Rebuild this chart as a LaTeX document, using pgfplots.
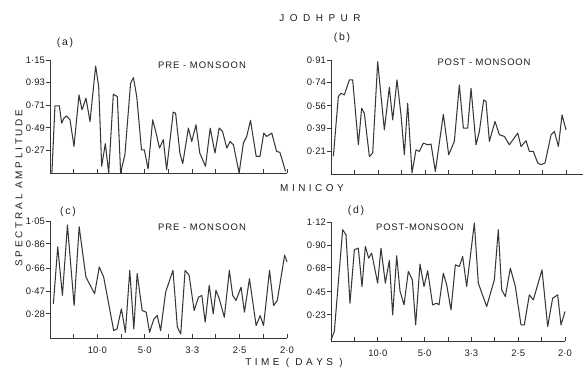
\documentclass[border=0pt]{standalone}
\usepackage{pgfplots}
\pgfplotsset{compat=1.18}
\usepackage{fontspec}
\setmainfont{Liberation Sans}
\definecolor{ink}{RGB}{55,55,55}
\definecolor{txt}{RGB}{30,30,30}
\pgfplotsset{
  panel/.style={
    scale only axis,
    axis x line=bottom, axis y line=left,
    axis line style={ink, line width=0.9pt, -},
    xmin=0, xmax=0.5,
    xtick={0.05,0.1,0.15,0.2,0.25,0.3,0.35,0.4,0.45,0.5},
    xtick align=inside, ytick align=outside,
    major tick length=4bp,
    tick style={ink, line width=0.9pt},
    every tick label/.append style={font=\fontsize{9.5}{10}\selectfont, text=txt},
    yticklabel style={inner sep=1pt},
    xticklabel style={yshift=-5pt},
    clip=false,
  },
  curve/.style={ink, line width=1.05pt, line join=round, no markers},
}
\newcommand{\tf}{\fontsize{10}{12}\selectfont}
\begin{document}
\begin{tikzpicture}
\useasboundingbox (0,0) rectangle (587bp,375bp);
% (a) Jodhpur pre-monsoon
\begin{axis}[panel, at={(50bp,202bp)}, anchor=south west, width=237bp, height=113bp,
  ymin=0.05, ymax=1.15, ytick={0.27,0.49,0.71,0.93,1.15},
  yticklabels={0·27,0·49,0·71,0·93,1·15}, xticklabels={}]
\addplot[curve] coordinates {
(0.004,0.05)(0.0105,0.704)(0.0197,0.704)(0.0246,0.535)(0.0295,0.584)(0.0352,0.606)
(0.0422,0.568)(0.0506,0.309)(0.0612,0.810)(0.0675,0.665)(0.0759,0.778)(0.0844,0.551)
(0.0963,1.092)(0.1027,0.891)(0.109,0.115)(0.1167,0.335)(0.1238,0.05)(0.1336,0.817)
(0.142,0.794)(0.149,0.05)(0.158,0.228)(0.170,0.923)(0.176,0.978)(0.183,0.794)
(0.193,0.276)(0.199,0.276)(0.207,0.089)(0.2166,0.568)(0.223,0.454)(0.231,0.293)
(0.239,0.374)(0.246,0.082)(0.260,0.642)(0.265,0.632)(0.274,0.244)(0.280,0.141)
(0.292,0.487)(0.299,0.357)(0.308,0.519)(0.316,0.244)(0.328,0.115)(0.338,0.487)
(0.348,0.244)(0.357,0.487)(0.364,0.454)(0.373,0.293)(0.380,0.357)(0.387,0.325)
(0.399,0.05)(0.408,0.341)(0.415,0.406)(0.423,0.561)(0.435,0.212)(0.443,0.212)
(0.451,0.438)(0.457,0.406)(0.468,0.438)(0.478,0.260)(0.485,0.251)(0.497,0.066)
};
\end{axis}
% (b) Jodhpur post-monsoon
\begin{axis}[panel, at={(331bp,201bp)}, anchor=south west, width=251.5bp, height=114bp,
  xmax=0.535,
  ymin=0.04, ymax=0.91, ytick={0.21,0.39,0.56,0.74,0.91},
  yticklabels={0·21,0·39,0·56,0·74,0·91}, xticklabels={}]
\addplot[curve] coordinates {
(0.005,0.174)(0.0156,0.631)(0.0213,0.656)(0.0284,0.644)(0.039,0.758)(0.0461,0.758)
(0.0582,0.263)(0.0652,0.542)(0.0709,0.504)(0.0816,0.174)(0.0887,0.200)(0.0993,0.897)
(0.1135,0.377)(0.1241,0.702)(0.1312,0.453)(0.1404,0.758)(0.1489,0.491)(0.156,0.187)
(0.1631,0.580)(0.1723,0.048)(0.1809,0.225)(0.1879,0.212)(0.1965,0.276)(0.2057,0.263)
(0.2128,0.268)(0.222,0.060)(0.239,0.496)(0.2504,0.187)(0.2624,0.289)(0.273,0.720)
(0.2816,0.390)(0.2908,0.390)(0.2979,0.694)(0.3085,0.263)(0.3156,0.365)(0.3248,0.606)
(0.3298,0.593)(0.3369,0.289)(0.3489,0.441)(0.3582,0.339)(0.3688,0.327)(0.3794,0.263)
(0.3972,0.352)(0.4043,0.250)(0.4149,0.294)(0.422,0.212)(0.4305,0.212)(0.4397,0.124)
(0.4468,0.111)(0.4553,0.124)(0.4681,0.339)(0.4752,0.365)(0.4837,0.250)(0.4915,0.491)
(0.5,0.377)
};
\end{axis}
% (c) Minicoy pre-monsoon
\begin{axis}[panel, at={(50bp,37bp)}, anchor=south west, width=237bp, height=117bp,
  ymin=0.08, ymax=1.05, ytick={0.28,0.47,0.66,0.86,1.05},
  yticklabels={0·28,0·47,0·66,0·86,1·05},
  xticklabels={,10·0,,5·0,,3·3,,2·5,,2·0}]
\addplot[curve] coordinates {
(0.0071,0.363)(0.0163,0.836)(0.0262,0.433)(0.0368,1.017)(0.0509,0.349)(0.0615,1.003)
(0.0757,0.586)(0.0941,0.447)(0.104,0.669)(0.1132,0.586)(0.1344,0.141)(0.1414,0.155)
(0.1506,0.322)(0.1591,0.127)(0.1683,0.641)(0.1768,0.155)(0.1839,0.614)(0.1945,0.308)
(0.203,0.294)(0.21,0.127)(0.2192,0.238)(0.2263,0.266)(0.2334,0.141)(0.244,0.461)
(0.2595,0.641)(0.2687,0.169)(0.2758,0.113)(0.285,0.641)(0.2935,0.600)(0.3041,0.308)
(0.3133,0.419)(0.3204,0.433)(0.3274,0.211)(0.3359,0.516)(0.3444,0.28)(0.3501,0.475)
(0.3571,0.405)(0.3678,0.252)(0.3784,0.641)(0.3854,0.433)(0.3925,0.391)(0.4031,0.502)
(0.4102,0.294)(0.4208,0.572)(0.4349,0.183)(0.4434,0.266)(0.4505,0.183)(0.4632,0.641)
(0.4717,0.349)(0.4795,0.391)(0.495,0.767)(0.5,0.711)
};
\end{axis}
% (d) Minicoy post-monsoon
\begin{axis}[panel, at={(331bp,34bp)}, anchor=south west, width=234bp, height=119bp,
  ymin=-0.02, ymax=1.12, ytick={0.23,0.45,0.68,0.90,1.12},
  yticklabels={0·23,0·45,0·68,0·90,1·12},
  xticklabels={,10·0,,5·0,,3·3,,2·5,,2·0}]
\addplot[curve] coordinates {
(0.0,-0.01)(0.0071,0.070)(0.0249,1.046)(0.032,0.998)(0.0406,0.342)(0.0499,0.854)
(0.0584,0.870)(0.0662,0.502)(0.0734,0.886)(0.0805,0.774)(0.0869,0.822)(0.0997,0.534)
(0.1068,0.870)(0.1161,0.534)(0.1246,0.752)(0.1318,0.23)(0.1403,0.797)(0.1474,0.460)
(0.156,0.326)(0.1652,0.646)(0.1738,0.566)(0.1809,0.134)(0.1902,0.717)(0.1987,0.502)
(0.2066,0.653)(0.2172,0.326)(0.2258,0.342)(0.2308,0.326)(0.24,0.630)(0.2472,0.518)
(0.2564,0.278)(0.2657,0.710)(0.2742,0.694)(0.2813,0.790)(0.2899,0.502)(0.3063,1.110)
(0.3148,0.534)(0.3326,0.310)(0.349,0.566)(0.3575,1.046)(0.3647,0.470)(0.3725,0.406)
(0.3832,0.678)(0.3939,0.502)(0.406,0.134)(0.4131,0.134)(0.4238,0.422)(0.4323,0.374)
(0.4509,0.662)(0.463,0.118)(0.4736,0.390)(0.4843,0.422)(0.4915,0.134)(0.5,0.262)
};
\end{axis}
% texts
\node[text=txt, font=\tf] at (320bp,357bp) {J\kern5.5pt O\kern5.5pt D\kern5.5pt H\kern5.5pt P\kern5.5pt U\kern5.5pt R};
\node[text=txt, font=\tf] at (312bp,187bp) {M\kern3.5pt I\kern3.5pt N\kern3.5pt I\kern3.5pt C\kern3.5pt O\kern3.5pt Y};
\node[text=txt, font=\tf] at (294bp,12bp) {T\kern3.5pt I\kern3.5pt M\kern3.5pt E\kern3.5pt\ (\kern3.5pt\ D\kern3.5pt A\kern3.5pt Y\kern3.5pt S\kern3.5pt\ )};
\node[text=txt, font=\tf, rotate=90] at (19bp,187bp) {S\kern2.8pt P\kern2.8pt E\kern2.8pt C\kern2.8pt T\kern2.8pt R\kern2.8pt A\kern2.8pt L\kern2.8pt\ A\kern2.8pt M\kern2.8pt P\kern2.8pt L\kern2.8pt I\kern2.8pt T\kern2.8pt U\kern2.8pt D\kern2.8pt E};
\node[text=txt, font=\fontsize{10.5}{12}\selectfont] at (65bp,332bp) {(\,a\,)};
\node[text=txt, font=\fontsize{10.5}{12}\selectfont] at (342bp,337bp) {(\,b\,)};
\node[text=txt, font=\fontsize{10.5}{12}\selectfont] at (68bp,163bp) {(\,c\,)};
\node[text=txt, font=\fontsize{10.5}{12}\selectfont] at (356bp,164bp) {(\,d\,)};
\node[text=txt, font=\fontsize{9.5}{11}\selectfont] at (202bp,310bp) {P\kern1pt R\kern1pt E\kern1pt\ -\kern1pt\ M\kern1pt O\kern1pt N\kern1pt S\kern1pt O\kern1pt O\kern1pt N};
\node[text=txt, font=\fontsize{9.5}{11}\selectfont] at (484bp,313bp) {P\kern0.8pt O\kern0.8pt S\kern0.8pt T\kern0.8pt\ -\kern0.8pt\ M\kern0.8pt O\kern0.8pt N\kern0.8pt S\kern0.8pt O\kern0.8pt O\kern0.8pt N};
\node[text=txt, font=\fontsize{9.5}{11}\selectfont] at (202bp,148bp) {P\kern1pt R\kern1pt E\kern1pt\ -\kern1pt\ M\kern1pt O\kern1pt N\kern1pt S\kern1pt O\kern1pt O\kern1pt N};
\node[text=txt, font=\fontsize{9.5}{11}\selectfont] at (420bp,148bp) {P\kern0.8pt O\kern0.8pt S\kern0.8pt T\kern0.8pt -\kern0.8pt M\kern0.8pt O\kern0.8pt N\kern0.8pt S\kern0.8pt O\kern0.8pt O\kern0.8pt N};
\end{tikzpicture}
\end{document}
